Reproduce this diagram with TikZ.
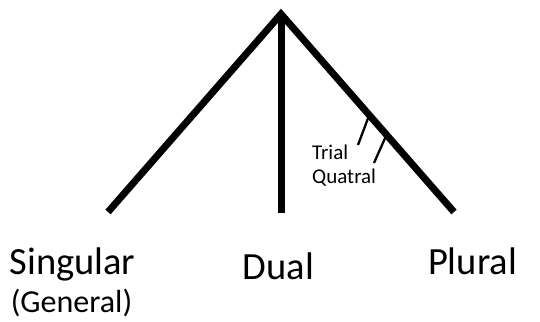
\documentclass[tikz,border=0pt]{standalone}
\usepackage{fontspec}
\setmainfont{Carlito}
\usepackage{tikz}
\usetikzlibrary{calc}
\tikzset{
branch/.style={
draw,
line width=7bp,
line join=miter
},
tickmark/.style={
draw,
line width=2.3bp
},
biglabel/.style={
inner sep=0pt,
anchor=base,
font=\fontsize{38.5bp}{46bp}\selectfont
},
sublabel/.style={
inner sep=0pt,
anchor=base,
font=\fontsize{32bp}{38bp}\selectfont
},
smalllabel/.style={
inner sep=0pt,
anchor=base west,
font=\fontsize{21bp}{25bp}\selectfont
}
}
\begin{document}
\begin{tikzpicture}[x=1bp,y=-1bp]
\useasboundingbox (0,0) rectangle (540,321);
\coordinate (top) at (281,14);
\coordinate (sg) at (108,212);
\coordinate (du) at (281,213);
\coordinate (pl) at (454,212);

\draw[branch](sg)--(top)--(pl);
\draw[branch](top)--(du);

% trial / quatral marks
\coordinate (t1) at ($(top)!0.51!(pl)$);
\coordinate (t2) at ($(top)!0.61!(pl)$);
\coordinate (e1) at (358,145);
\coordinate (e2) at (374,163);
\draw[tickmark](t1)--(e1);
\draw[tickmark](t2)--(e2);

\node[biglabel](sing) at (72.5,274){Singular};
\node[sublabel](gen) at (71.5,312){(General)};
\node[biglabel](dual) at (278.5,279){Dual};
\node[biglabel](plur) at (472.5,274){Plural};
\node[smalllabel](trial) at (312,159){Trial};
\node[smalllabel](quat) at (312,183){Quatral};
\end{tikzpicture}
\end{document}
